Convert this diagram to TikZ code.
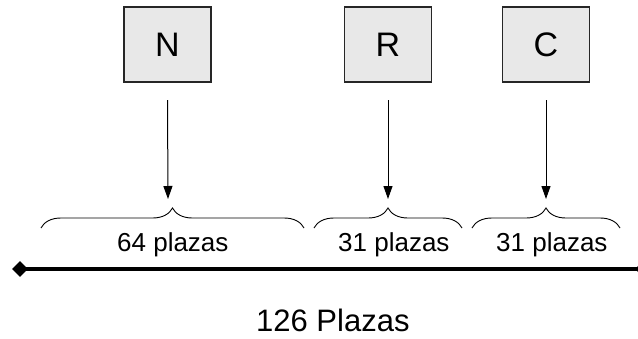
\documentclass[tikz,border=0pt]{standalone}
\usepackage{fontspec}
\setmainfont{Liberation Sans}
\usetikzlibrary{arrows.meta,decorations.pathreplacing,shapes.geometric}
\begin{document}
\begin{tikzpicture}[x=1pt,y=-1pt,
  letterbox/.style={draw=black!85,line width=1.2pt,fill=black!9,minimum width=87pt,minimum height=75pt,inner sep=0pt,font=\fontsize{34}{36}\selectfont},
  downarrow/.style={line width=1pt,-{Triangle[width=9pt,length=13pt]}},
  bracepath/.style={decorate,decoration={brace,amplitude=20pt,aspect=0.5},line width=0.9pt},
  lbl/.style={font=\fontsize{26}{28}\selectfont,inner sep=0pt,anchor=base west},
  endmark/.style={diamond,fill=black,minimum width=16pt,minimum height=16pt,inner sep=0pt}]
\useasboundingbox (0,0) rectangle (638,338);
\node[letterbox] (N) at (167.5,44.5) {N};
\node[letterbox] (R) at (388,44.5) {R};
\node[letterbox] (C) at (546,44.5) {C};
\coordinate (bN) at (168,199);
\coordinate (bR) at (388,199);
\coordinate (bC) at (546,199);
\draw[downarrow] (N.south |- 0,100) -- (bN);
\draw[downarrow] (R.south |- 0,100) -- (bR);
\draw[downarrow] (C.south |- 0,100) -- (bC);
\coordinate (b1l) at (41,228); \coordinate (b1r) at (304,228);
\coordinate (b2l) at (314,228); \coordinate (b2r) at (462,228);
\coordinate (b3l) at (472,228); \coordinate (b3r) at (620,228);
\draw[bracepath] (b1l) -- (b1r);
\draw[bracepath] (b2l) -- (b2r);
\draw[bracepath] (b3l) -- (b3r);
\node[lbl] (l1) at (117,251) {64 plazas};
\node[lbl] (l2) at (338,251) {31 plazas};
\node[lbl] (l3) at (496,251) {31 plazas};
\node[endmark] (eL) at (20,269) {};
\node[endmark] (eR) at (643,269) {};
\draw[line width=4pt] (eL.center) -- (eR.center);
\node[font=\fontsize{31}{33}\selectfont,inner sep=0pt,anchor=base west] (tot) at (256,331) {126 Plazas};
\end{tikzpicture}
\end{document}
